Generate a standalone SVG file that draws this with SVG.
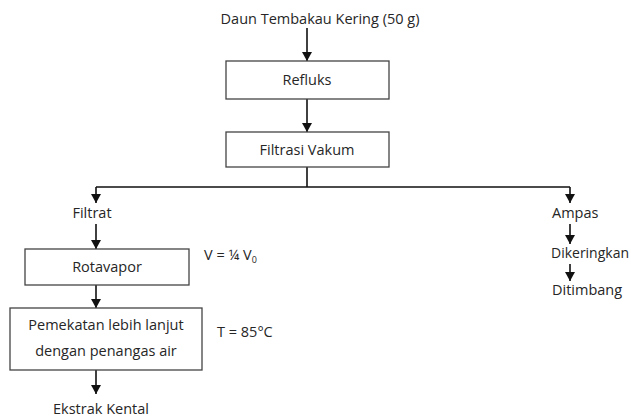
<svg xmlns="http://www.w3.org/2000/svg" width="631" height="418" viewBox="0 0 631 418">
<defs>
<marker id="ah" markerWidth="9" markerHeight="10" refX="9" refY="5" orient="auto" markerUnits="userSpaceOnUse">
<path d="M0,0 L9,5 L0,10 Z" fill="#111"/>
</marker>
<style>
text{font-family:"Open Sans","Liberation Sans",sans-serif;font-size:14.5px;fill:#262626;}
.c{text-anchor:middle;}
.box{fill:#fff;stroke:#444;stroke-width:1.3;}
.ln{stroke:#111;stroke-width:1.6;fill:none;}
.ar{stroke:#111;stroke-width:1.6;fill:none;marker-end:url(#ah);}
</style>
</defs>
<rect width="631" height="418" fill="#fff"/>
<g id="connectors">
<line class="ar" x1="307" y1="28" x2="307" y2="61"/>
<line class="ar" x1="307" y1="99" x2="307" y2="132"/>
<path class="ln" d="M307,167 V187 M96,187 H570"/>
<line class="ar" x1="96" y1="187" x2="96" y2="203"/>
<line class="ar" x1="570" y1="187" x2="570" y2="203"/>
<line class="ar" x1="96" y1="224" x2="96" y2="249"/>
<line class="ar" x1="96" y1="285" x2="96" y2="308"/>
<line class="ar" x1="96" y1="370" x2="96" y2="394"/>
<line class="ar" x1="570" y1="224" x2="570" y2="244"/>
<line class="ar" x1="570" y1="264" x2="570" y2="281"/>
</g>
<g id="n-daun"><text class="c" x="320" y="24">Daun Tembakau Kering (50 g)</text></g>
<g id="n-refluks"><rect class="box" x="226" y="61" width="163" height="38"/><text class="c" x="307" y="85">Refluks</text></g>
<g id="n-filtrasi"><rect class="box" x="226" y="132" width="163" height="35"/><text class="c" x="307" y="155">Filtrasi Vakum</text></g>
<g id="n-filtrat"><text class="c" x="92" y="218">Filtrat</text></g>
<g id="n-rotavapor"><rect class="box" x="25" y="249" width="164" height="36"/><text class="c" x="107" y="272">Rotavapor</text></g>
<g id="n-v"><text x="204" y="260">V = ¼ V<tspan font-size="9" dy="3">0</tspan></text></g>
<g id="n-pemekatan"><rect class="box" x="10" y="308" width="192" height="62"/><text class="c" x="106" y="330">Pemekatan lebih lanjut</text><text class="c" x="106" y="356">dengan penangas air</text></g>
<g id="n-t"><text x="217" y="337">T = 85°C</text></g>
<g id="n-ekstrak"><text class="c" x="101" y="414">Ekstrak Kental</text></g>
<g id="n-ampas"><text x="552" y="218">Ampas</text></g>
<g id="n-dikeringkan"><text x="551" y="258" textLength="78" lengthAdjust="spacingAndGlyphs">Dikeringkan</text></g>
<g id="n-ditimbang"><text x="552" y="295">Ditimbang</text></g>
</svg>
